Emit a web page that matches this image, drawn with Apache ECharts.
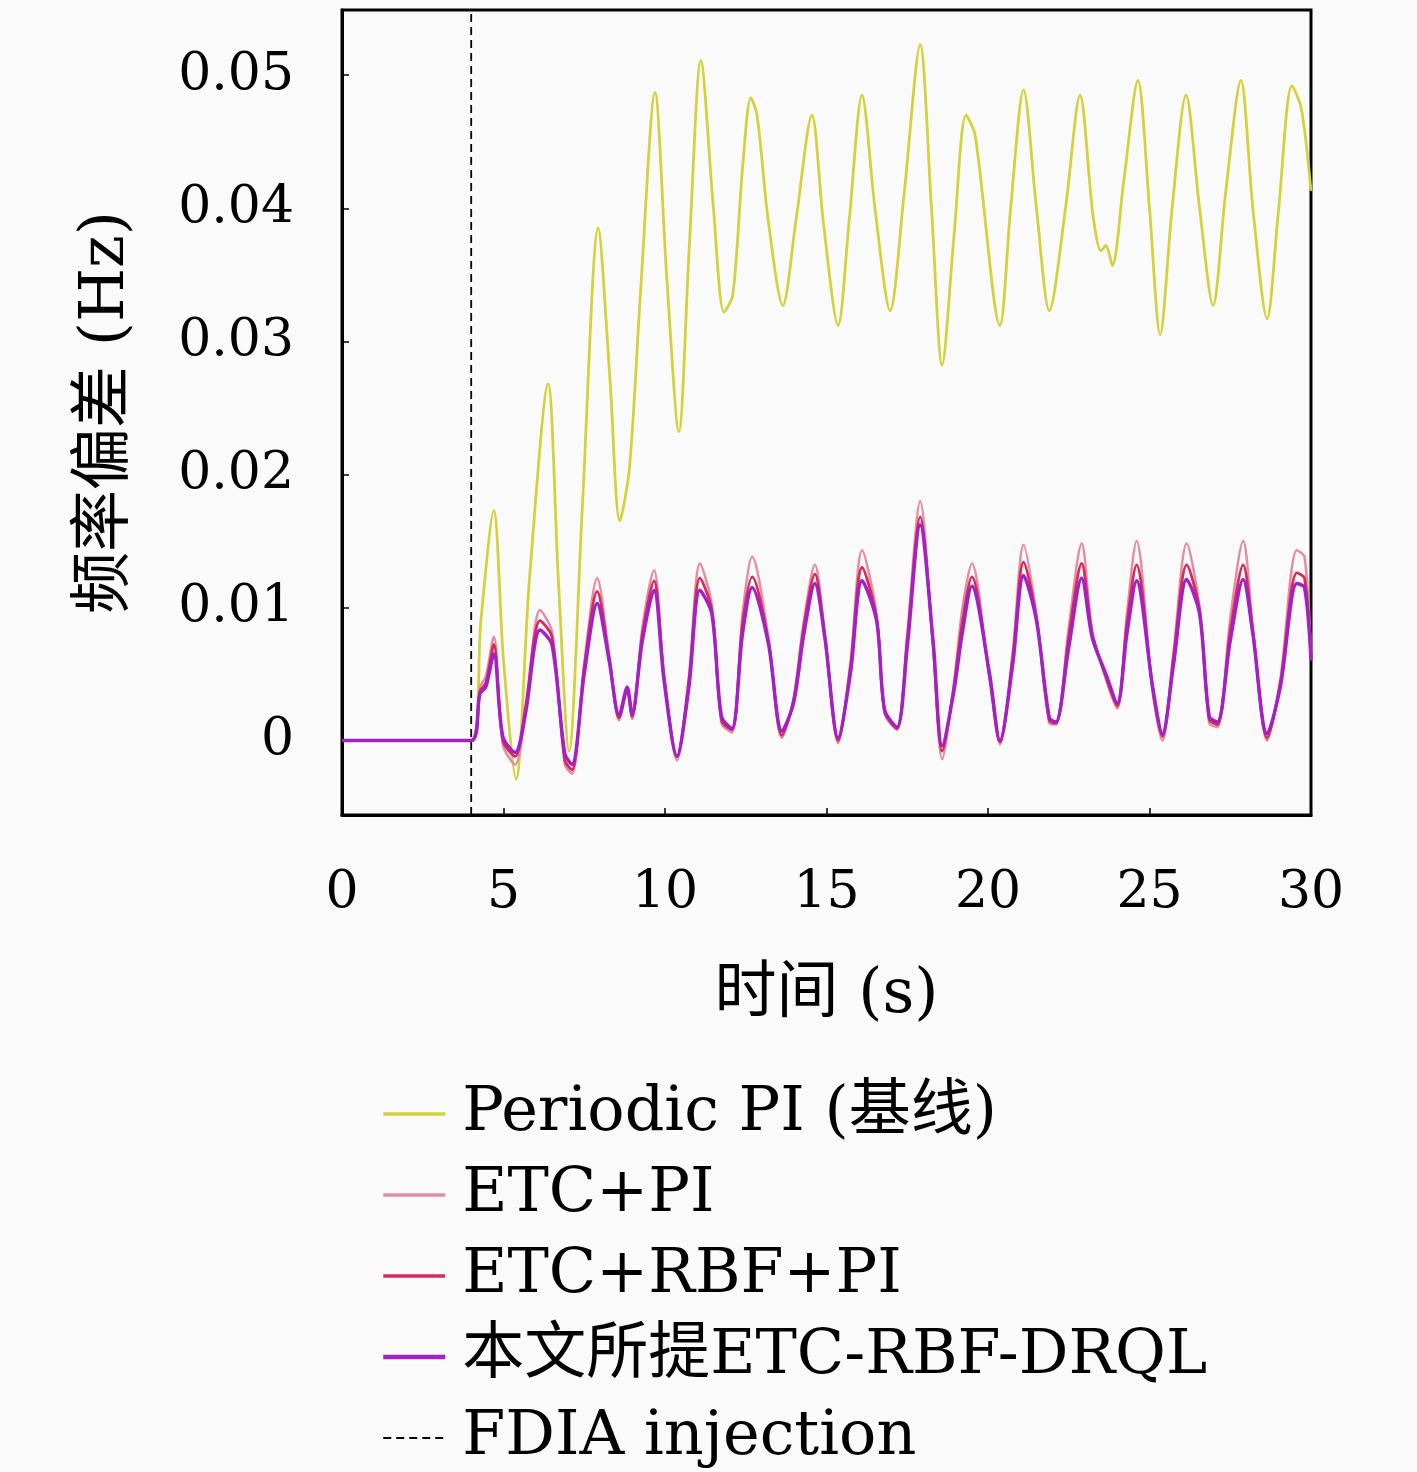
<!DOCTYPE html>
<html>
<head>
<meta charset="utf-8">
<script src="https://cdn.jsdelivr.net/npm/echarts@6/dist/echarts.min.js"></script>
<style>
  html, body { margin: 0; padding: 0; background: #fafafa; }
  #chart { width: 1417px; height: 1472px; }
</style>
</head>
<body>
<div id="chart"></div>
<script>
var SERIF = "'DejaVu Serif', 'Noto Sans CJK SC', serif";

// time axis for the periodic PI curve (s)
var tPeriodic = [0, 4.0, 4.3, 4.7, 5.0, 5.39, 5.8, 6.38, 6.7, 7.03, 7.45, 7.93, 8.3, 8.6, 8.9, 9.25,
    9.69, 10.05, 10.43, 10.75, 11.11, 11.5, 11.83, 12.1, 12.4, 12.66, 12.85, 13.2, 13.65, 14.05,
    14.55, 14.9, 15.36, 15.7, 16.1, 16.5, 16.97, 17.4, 17.9, 18.25, 18.58, 18.95, 19.32, 19.6,
    20.37, 20.7, 21.1, 21.5, 21.9, 22.4, 22.85, 23.25, 23.5, 23.65, 23.85, 24.2, 24.64, 25.0,
    25.33, 25.7, 26.13, 26.55, 26.97, 27.35, 27.83, 28.2, 28.64, 29.0, 29.41, 29.7, 30];
var periodicPI = [0, 0, 0.009, 0.0173, 0.006, -0.0029, 0.012, 0.0268, 0.012, -0.0008, 0.018, 0.0385,
    0.027, 0.0165, 0.0205, 0.034, 0.0487, 0.035, 0.0232, 0.037, 0.0511, 0.040, 0.0322, 0.0335,
    0.043, 0.0483, 0.047, 0.039, 0.0327, 0.039, 0.047, 0.039, 0.0312, 0.039, 0.0485, 0.040,
    0.0323, 0.041, 0.0523, 0.040, 0.0282, 0.038, 0.047, 0.0455, 0.0312, 0.040, 0.0489, 0.040,
    0.0323, 0.040, 0.0485, 0.0395, 0.0368, 0.0372, 0.0357, 0.042, 0.0496, 0.040, 0.0305, 0.040,
    0.0485, 0.040, 0.0327, 0.041, 0.0496, 0.040, 0.0317, 0.040, 0.0492, 0.0475, 0.0413];

// time axis shared by the three event-triggered curves (s)
var tLow = [0, 4.0, 4.27, 4.45, 4.7, 4.98, 5.36, 5.68, 6.13, 6.5, 6.9, 7.12, 7.5, 7.9, 8.27, 8.58,
    8.83, 8.98, 9.3, 9.66, 9.97, 10.37, 10.74, 11.08, 11.45, 11.75, 12.07, 12.4, 12.7, 13.2, 13.62,
    13.98, 14.3, 14.64, 14.95, 15.36, 15.74, 16.1, 16.55, 16.8, 17.18, 17.5, 17.9, 18.3, 18.58,
    18.93, 19.2, 19.5, 20.05, 20.37, 20.77, 21.1, 21.5, 21.9, 22.1, 22.5, 22.9, 23.23, 23.65, 24.0,
    24.3, 24.6, 25.1, 25.4, 25.75, 26.15, 26.55, 26.85, 27.1, 27.5, 27.9, 28.2, 28.64, 29.05,
    29.56, 29.8, 30];
var etcPI = [0, 0, 0.004, 0.0048, 0.0078, -0.0003, -0.0018, 0.002, 0.0098, 0.0082, -0.0018, -0.0025,
    0.0058, 0.0122, 0.0065, 0.0015, 0.0037, 0.0016, 0.0085, 0.0128, 0.005, -0.0015, 0.0048, 0.0133,
    0.0102, 0.0013, 0.0006, 0.0095, 0.0138, 0.0078, 0.0002, 0.0032, 0.009, 0.0132, 0.008, -0.0002,
    0.0058, 0.0143, 0.0095, 0.002, 0.0008, 0.008, 0.018, 0.007, -0.0014, 0.004, 0.0098, 0.0133,
    0.0045, -0.0003, 0.0068, 0.0147, 0.0095, 0.0013, 0.0012, 0.0085, 0.0148, 0.0082, 0.0046, 0.0024,
    0.0095, 0.015, 0.0036, 0.0, 0.0068, 0.0148, 0.010, 0.0013, 0.001, 0.0092, 0.015, 0.0085, 0.0,
    0.0046, 0.0143, 0.0138, 0.0065];
var etcRbfPI = [0, 0, 0.0037, 0.0043, 0.0072, 0.0, -0.0012, 0.0025, 0.009, 0.0078, -0.0015, -0.0022,
    0.0055, 0.0112, 0.0062, 0.0017, 0.0038, 0.0018, 0.008, 0.012, 0.0048, -0.0012, 0.0045, 0.0122,
    0.0098, 0.0015, 0.0008, 0.0088, 0.0123, 0.0075, 0.0004, 0.003, 0.0086, 0.0125, 0.0078, 0.0,
    0.0055, 0.013, 0.0092, 0.0022, 0.0009, 0.0076, 0.0168, 0.0072, -0.0008, 0.0038, 0.0088, 0.0123,
    0.0048, -0.0001, 0.0063, 0.0134, 0.0092, 0.0015, 0.0013, 0.0078, 0.0133, 0.008, 0.0048, 0.0026,
    0.0088, 0.0132, 0.0038, 0.0003, 0.0064, 0.0132, 0.0098, 0.0016, 0.0012, 0.0082, 0.0132, 0.0082,
    0.0002, 0.0043, 0.0126, 0.0122, 0.0062];
var etcRbfDrql = [0, 0, 0.0035, 0.004, 0.0065, 0.0003, -0.0009, 0.002, 0.0083, 0.0072, -0.001, -0.0018,
    0.005, 0.0103, 0.006, 0.0019, 0.004, 0.002, 0.0075, 0.0113, 0.0045, -0.0012, 0.004, 0.0113,
    0.0095, 0.0018, 0.0009, 0.008, 0.0115, 0.0073, 0.0007, 0.0028, 0.008, 0.0118, 0.0077, 0.0002,
    0.005, 0.012, 0.009, 0.0023, 0.001, 0.007, 0.0162, 0.0075, -0.0004, 0.0035, 0.008, 0.0116,
    0.005, 0.0, 0.0058, 0.0124, 0.009, 0.0017, 0.0014, 0.007, 0.0122, 0.0077, 0.005, 0.0028,
    0.008, 0.012, 0.004, 0.0005, 0.0058, 0.0121, 0.0095, 0.0018, 0.0014, 0.0075, 0.0121, 0.008,
    0.0005, 0.004, 0.0118, 0.0115, 0.006];

// FDIA injection instant and the y range it spans
var fdiaTime = 4.0;
var yRange = [-0.0056, 0.0549];
var yTicks = [0, 0.01, 0.02, 0.03, 0.04, 0.05];

var names = ['Periodic PI (基线)', 'ETC+PI', 'ETC+RBF+PI', '本文所提ETC-RBF-DRQL', 'FDIA injection'];

function pairs(t, v) {
    return t.map(function (x, i) { return [x, v[i]]; });
}

function curve(name, t, v, color, width) {
    return {
        name: name,
        type: 'line',
        data: pairs(t, v),
        smooth: 0.3,
        symbol: 'none',
        lineStyle: { color: color, width: width },
        itemStyle: { color: color }
    };
}

var chart = echarts.init(document.getElementById('chart'));

chart.setOption({
    backgroundColor: '#fafafa',
    animation: false,
    textStyle: { fontFamily: SERIF },
    grid: {
        left: 342, right: 106, top: 10, bottom: 657,
        show: true, borderColor: '#000', borderWidth: 3,
        backgroundColor: 'transparent'
    },
    legend: {
        orient: 'vertical',
        left: 376,
        top: 1078,
        height: 420,
        itemWidth: 62,
        itemHeight: 12,
        itemGap: 19,
        itemStyle: { opacity: 0 },
        data: [
            { name: names[0], lineStyle: { width: 3.5 } },
            { name: names[1], lineStyle: { width: 3.5 } },
            { name: names[2], lineStyle: { width: 3.5 } },
            { name: names[3], lineStyle: { width: 4.5 } },
            { name: names[4], lineStyle: { width: 2.2 } }
        ],
        textStyle: {
            fontFamily: SERIF, fontSize: 62, color: '#000',
            padding: [0, 0, 0, 12]
        }
    },
    xAxis: {
        type: 'value',
        min: 0, max: 30, interval: 5,
        name: '时间 (s)',
        nameLocation: 'middle',
        nameGap: 150,
        nameTextStyle: { fontFamily: SERIF, fontSize: 62, color: '#000' },
        axisLine: { show: true, onZero: false, lineStyle: { color: '#000', width: 3 } },
        axisTick: { inside: true, length: 7, lineStyle: { color: '#000', width: 1.5 } },
        axisLabel: { fontFamily: SERIF, fontSize: 52, color: '#000', margin: 52 },
        splitLine: { show: false }
    },
    yAxis: {
        type: 'value',
        min: yRange[0], max: yRange[1],
        name: '频率偏差 (Hz)',
        nameLocation: 'middle',
        nameGap: 204,
        nameTextStyle: { fontFamily: SERIF, fontSize: 62, color: '#000' },
        axisLine: { show: true, onZero: false, lineStyle: { color: '#000', width: 3 } },
        axisTick: { inside: true, length: 7, customValues: yTicks, lineStyle: { color: '#000', width: 1.5 } },
        axisLabel: {
            fontFamily: SERIF, fontSize: 52, color: '#000', margin: 48,
            customValues: yTicks,
            formatter: function (v) { return v === 0 ? '0' : v.toFixed(2); }
        },
        splitLine: { show: false }
    },
    series: [
        curve(names[0], tPeriodic, periodicPI, '#d4d23c', 2.8),
        curve(names[1], tLow, etcPI, '#e38da3', 2.5),
        curve(names[2], tLow, etcRbfPI, '#d62a5c', 2.8),
        curve(names[3], tLow, etcRbfDrql, '#a31fc6', 3.4),
        {
            name: names[4],
            type: 'line',
            data: [[fdiaTime, yRange[0]], [fdiaTime, yRange[1]]],
            symbol: 'none',
            lineStyle: { color: '#000', width: 1.8, type: [8, 5] },
            itemStyle: { color: '#000' }
        }
    ]
});
</script>
</body>
</html>
